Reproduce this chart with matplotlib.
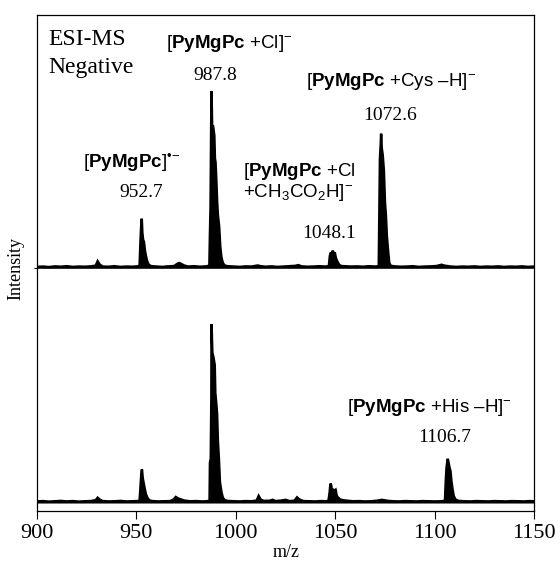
"""
ESI-MS (negative mode) spectra of PyMgPc, stacked: upper trace with Cys,
lower trace with His. Saves out.png.
"""

import matplotlib
matplotlib.use("Agg")
import matplotlib.pyplot as plt

plt.rcParams["font.family"] = ["Liberation Serif", "DejaVu Serif"]
plt.rcParams["mathtext.fontset"] = "custom"
plt.rcParams["mathtext.rm"] = "Liberation Sans"
plt.rcParams["mathtext.bf"] = "Liberation Sans:bold"
plt.rcParams["mathtext.it"] = "Liberation Sans:italic"
plt.rcParams["mathtext.sf"] = "Liberation Sans"

# vertical offsets of the two stacked traces (relative intensity units)
TOP_OFFSET = 137.0
BOTTOM_OFFSET = 4.5

# (m/z, relative intensity)
TOP_TRACE = [
    (900, 0.8), (903, 1.0), (906, 0.7), (909, 1.1), (912, 0.9), (915, 1.2),
    (918, 0.8), (921, 1.0), (924, 0.9), (927, 1.1), (929.5, 1.5), (930.5, 4.0),
    (931.5, 2.2), (933, 1.0), (936, 0.9), (939, 1.2), (942, 0.8), (945, 1.0),
    (948, 0.9), (950.5, 1.1),
    (951.6, 1.5), (952.0, 14), (952.4, 24), (952.7, 28), (953.0, 20),
    (953.4, 16), (953.8, 15), (954.3, 10), (954.8, 7), (955.4, 4), (956.2, 2),
    (957.5, 1.2),
    (960, 1.0), (963, 0.8), (966, 1.1), (969, 1.3), (970.5, 2.5), (971.5, 3.0),
    (972.5, 2.5), (974, 1.6), (976, 1.0), (979, 1.2), (982, 0.9), (985, 1.1),
    (986.7, 1.5), (987.0, 20), (987.3, 35), (987.6, 80), (987.8, 100),
    (988.1, 80), (988.6, 80), (989.2, 75), (989.5, 62), (989.8, 60),
    (990.2, 50), (990.6, 38), (991.0, 30), (991.6, 24), (992.2, 12),
    (992.8, 6), (993.5, 3), (994.5, 1.5),
    (996, 1.2), (999, 1.0), (1002, 0.8), (1005, 1.1), (1008, 1.0), (1011, 1.6),
    (1012.5, 1.2), (1015, 0.9), (1018, 1.1), (1021, 0.8), (1024, 1.0),
    (1027, 1.2), (1030, 1.4), (1031.5, 1.8), (1033, 1.1), (1036, 0.9),
    (1039, 1.0), (1042, 1.2), (1045, 1.0),
    (1046.8, 1.2), (1047.3, 7), (1047.8, 9), (1048.3, 8), (1048.8, 10),
    (1049.3, 8), (1049.8, 9), (1050.3, 6), (1051.0, 4), (1052.0, 2),
    (1053.0, 1.3),
    (1055, 1.2), (1058, 1.0), (1061, 1.1), (1064, 0.9), (1067, 1.2), (1070, 1.0),
    (1071.9, 1.2), (1072.2, 30), (1072.5, 62), (1072.9, 70), (1073.1, 76),
    (1073.4, 68), (1073.9, 64), (1074.5, 55), (1075.0, 38), (1075.5, 30),
    (1076.0, 18), (1076.6, 10), (1077.2, 3), (1078, 1.4),
    (1080, 1.1), (1083, 0.9), (1086, 1.0), (1089, 1.2), (1092, 0.8), (1095, 1.0),
    (1098, 1.1), (1101, 1.3), (1103.5, 2.0), (1105, 1.5), (1108, 1.0),
    (1111, 0.8), (1114, 1.0), (1117, 0.9), (1120, 1.1), (1123, 0.8),
    (1126, 1.0), (1129, 0.9), (1132, 1.1), (1135, 0.8), (1138, 1.0),
    (1141, 0.9), (1144, 1.1), (1147, 0.8), (1150, 1.0),
]

# (m/z, relative intensity)
BOTTOM_TRACE = [
    (900, 0.9), (903, 1.1), (906, 0.8), (909, 1.0), (912, 1.2), (915, 0.9),
    (918, 1.1), (921, 0.8), (924, 1.0), (927, 1.1), (929.5, 1.6), (930.5, 3.0),
    (931.5, 2.0), (933, 1.1), (936, 0.9), (939, 1.0), (942, 1.2), (945, 0.9),
    (948, 1.0), (950.5, 1.1),
    (951.6, 1.3), (952.1, 10), (952.5, 17), (952.8, 19), (953.2, 14),
    (953.7, 11), (954.2, 8), (954.8, 5), (955.5, 3), (956.5, 1.5),
    (958, 1.1),
    (961, 0.9), (964, 1.0), (967, 1.1), (968.8, 2.0), (969.8, 3.4), (971, 2.6),
    (972.5, 2.0), (974, 1.4), (977, 1.0), (980, 1.1), (983, 0.9), (985, 1.0),
    (986.8, 1.2), (987.0, 23), (987.4, 25), (987.7, 60), (987.8, 101),
    (988.2, 85), (988.8, 82), (989.4, 78), (989.7, 62), (990.2, 56),
    (990.6, 50), (991.0, 35), (991.5, 25), (992.0, 12), (992.8, 6),
    (993.5, 3), (994.5, 1.5),
    (996, 1.2), (999, 1.0), (1002, 0.9), (1005, 1.1), (1008, 1.0),
    (1010.5, 1.4), (1011.5, 4.0), (1012.5, 2.0), (1014, 1.2), (1017, 1.3),
    (1018.5, 1.8), (1020, 1.1), (1023, 1.4), (1025, 1.8), (1027, 1.1),
    (1029.5, 1.3), (1030.8, 3.2), (1032, 2.0), (1034, 1.1), (1037, 1.0),
    (1040, 0.9), (1043, 1.1), (1045, 1.0),
    (1046.6, 1.2), (1047.2, 6), (1047.6, 11), (1048.0, 10), (1048.4, 6),
    (1049.0, 7.5), (1049.6, 7), (1050.2, 7.5), (1050.8, 4), (1051.5, 3),
    (1052.5, 2), (1054, 1.6), (1056, 1.3),
    (1059, 1.0), (1062, 1.1), (1065, 0.9), (1068, 1.0), (1071, 1.3),
    (1073.5, 1.8), (1076, 1.3), (1079, 1.0), (1082, 0.9), (1085, 1.1),
    (1088, 1.0), (1091, 0.9), (1094, 1.1), (1097, 1.0), (1100, 0.9),
    (1103, 1.0),
    (1105.2, 1.2), (1105.6, 12), (1106.0, 20), (1106.6, 25), (1107.0, 23),
    (1107.5, 20), (1108.0, 18), (1108.5, 12), (1109.0, 8), (1109.6, 4),
    (1110.5, 2), (1112, 1.2),
    (1115, 1.0), (1118, 0.9), (1121, 1.1), (1124, 1.0), (1127, 0.9),
    (1130, 1.1), (1133, 1.0), (1136, 0.9), (1139, 1.1), (1142, 1.0),
    (1145, 0.9), (1148, 1.1), (1150, 1.0),
]

X_TICKS = [900, 950, 1000, 1050, 1100, 1150]

# peak annotations: (m/z, baseline y, text, horizontal alignment, style)
PEAK_LABELS = [
    (964.9, 261.6, r"$\text{[}\mathbf{PyMgPc}\text{ +Cl]}^{-}$", "left", "sans"),
    (989.5, 243.5, "987.8", "center", "serif"),
    (923.1, 193.8, r"$\text{[}\mathbf{PyMgPc}\text{]}^{\text{•−}}$", "left", "sans"),
    (952.6, 177.4, "952.7", "center", "serif"),
    (1003.6, 189.0, r"$\text{[}\mathbf{PyMgPc}\text{ +Cl}$", "left", "sans"),
    (1003.6, 177.4, r"$\text{+CH}_{3}\text{CO}_{2}\text{H]}^{-}$", "left", "sans"),
    (1046.9, 154.2, "1048.1", "center", "serif"),
    (1035.3, 240.1, r"$\text{[}\mathbf{PyMgPc}\text{ +Cys –H]}^{-}$", "left", "sans"),
    (1077.6, 220.9, "1072.6", "center", "serif"),
    (1055.9, 55.9, r"$\text{[}\mathbf{PyMgPc}\text{ +His –H]}^{-}$", "left", "sans"),
    (1105.0, 39.0, "1106.7", "center", "serif"),
]


def draw_trace(ax, trace, offset):
    mz = [p[0] for p in trace]
    inten = [offset + p[1] for p in trace]
    ax.fill_between(mz, offset, inten, color="black", lw=0)
    ax.plot(mz, inten, color="black", lw=1.8, solid_joinstyle="miter")


fig = plt.figure(figsize=(5.6, 5.61), dpi=100)
ax = fig.add_axes([37 / 560, 1 - 511 / 561, 497 / 560, 496 / 561])

draw_trace(ax, TOP_TRACE, TOP_OFFSET)
draw_trace(ax, BOTTOM_TRACE, BOTTOM_OFFSET)

ax.set_xlim(900, 1150)
ax.set_ylim(0, 280)
ax.set_xticks(X_TICKS)
ax.set_xticklabels([str(t) for t in X_TICKS])
ax.set_yticks([TOP_OFFSET])
ax.set_yticklabels([])
ax.tick_params(axis="x", direction="out", length=6, width=0.8, labelsize=16, pad=3)
ax.tick_params(axis="y", direction="out", length=2.5, width=0.8)
for sp in ax.spines.values():
    sp.set_linewidth(0.9)

ax.text(905.5, 263.3, "ESI-MS", fontsize=17, ha="left", va="baseline")
ax.text(905.5, 247.5, "Negative", fontsize=17, ha="left", va="baseline")

for x, y, txt, ha, style in PEAK_LABELS:
    if style == "sans":
        ax.text(x, y, txt, fontsize=13.5, ha=ha, va="baseline")
    else:
        ax.text(x, y, txt, fontsize=14, ha=ha, va="baseline")

fig.text(15.5 / 560, 1 - 269 / 561, "Intensity", rotation=90, fontsize=13,
         ha="center", va="center")
fig.text(286.5 / 560, 0.007, "m/z", fontsize=13, ha="center", va="baseline")

fig.savefig("out.png", dpi=100)
plt.close(fig)
